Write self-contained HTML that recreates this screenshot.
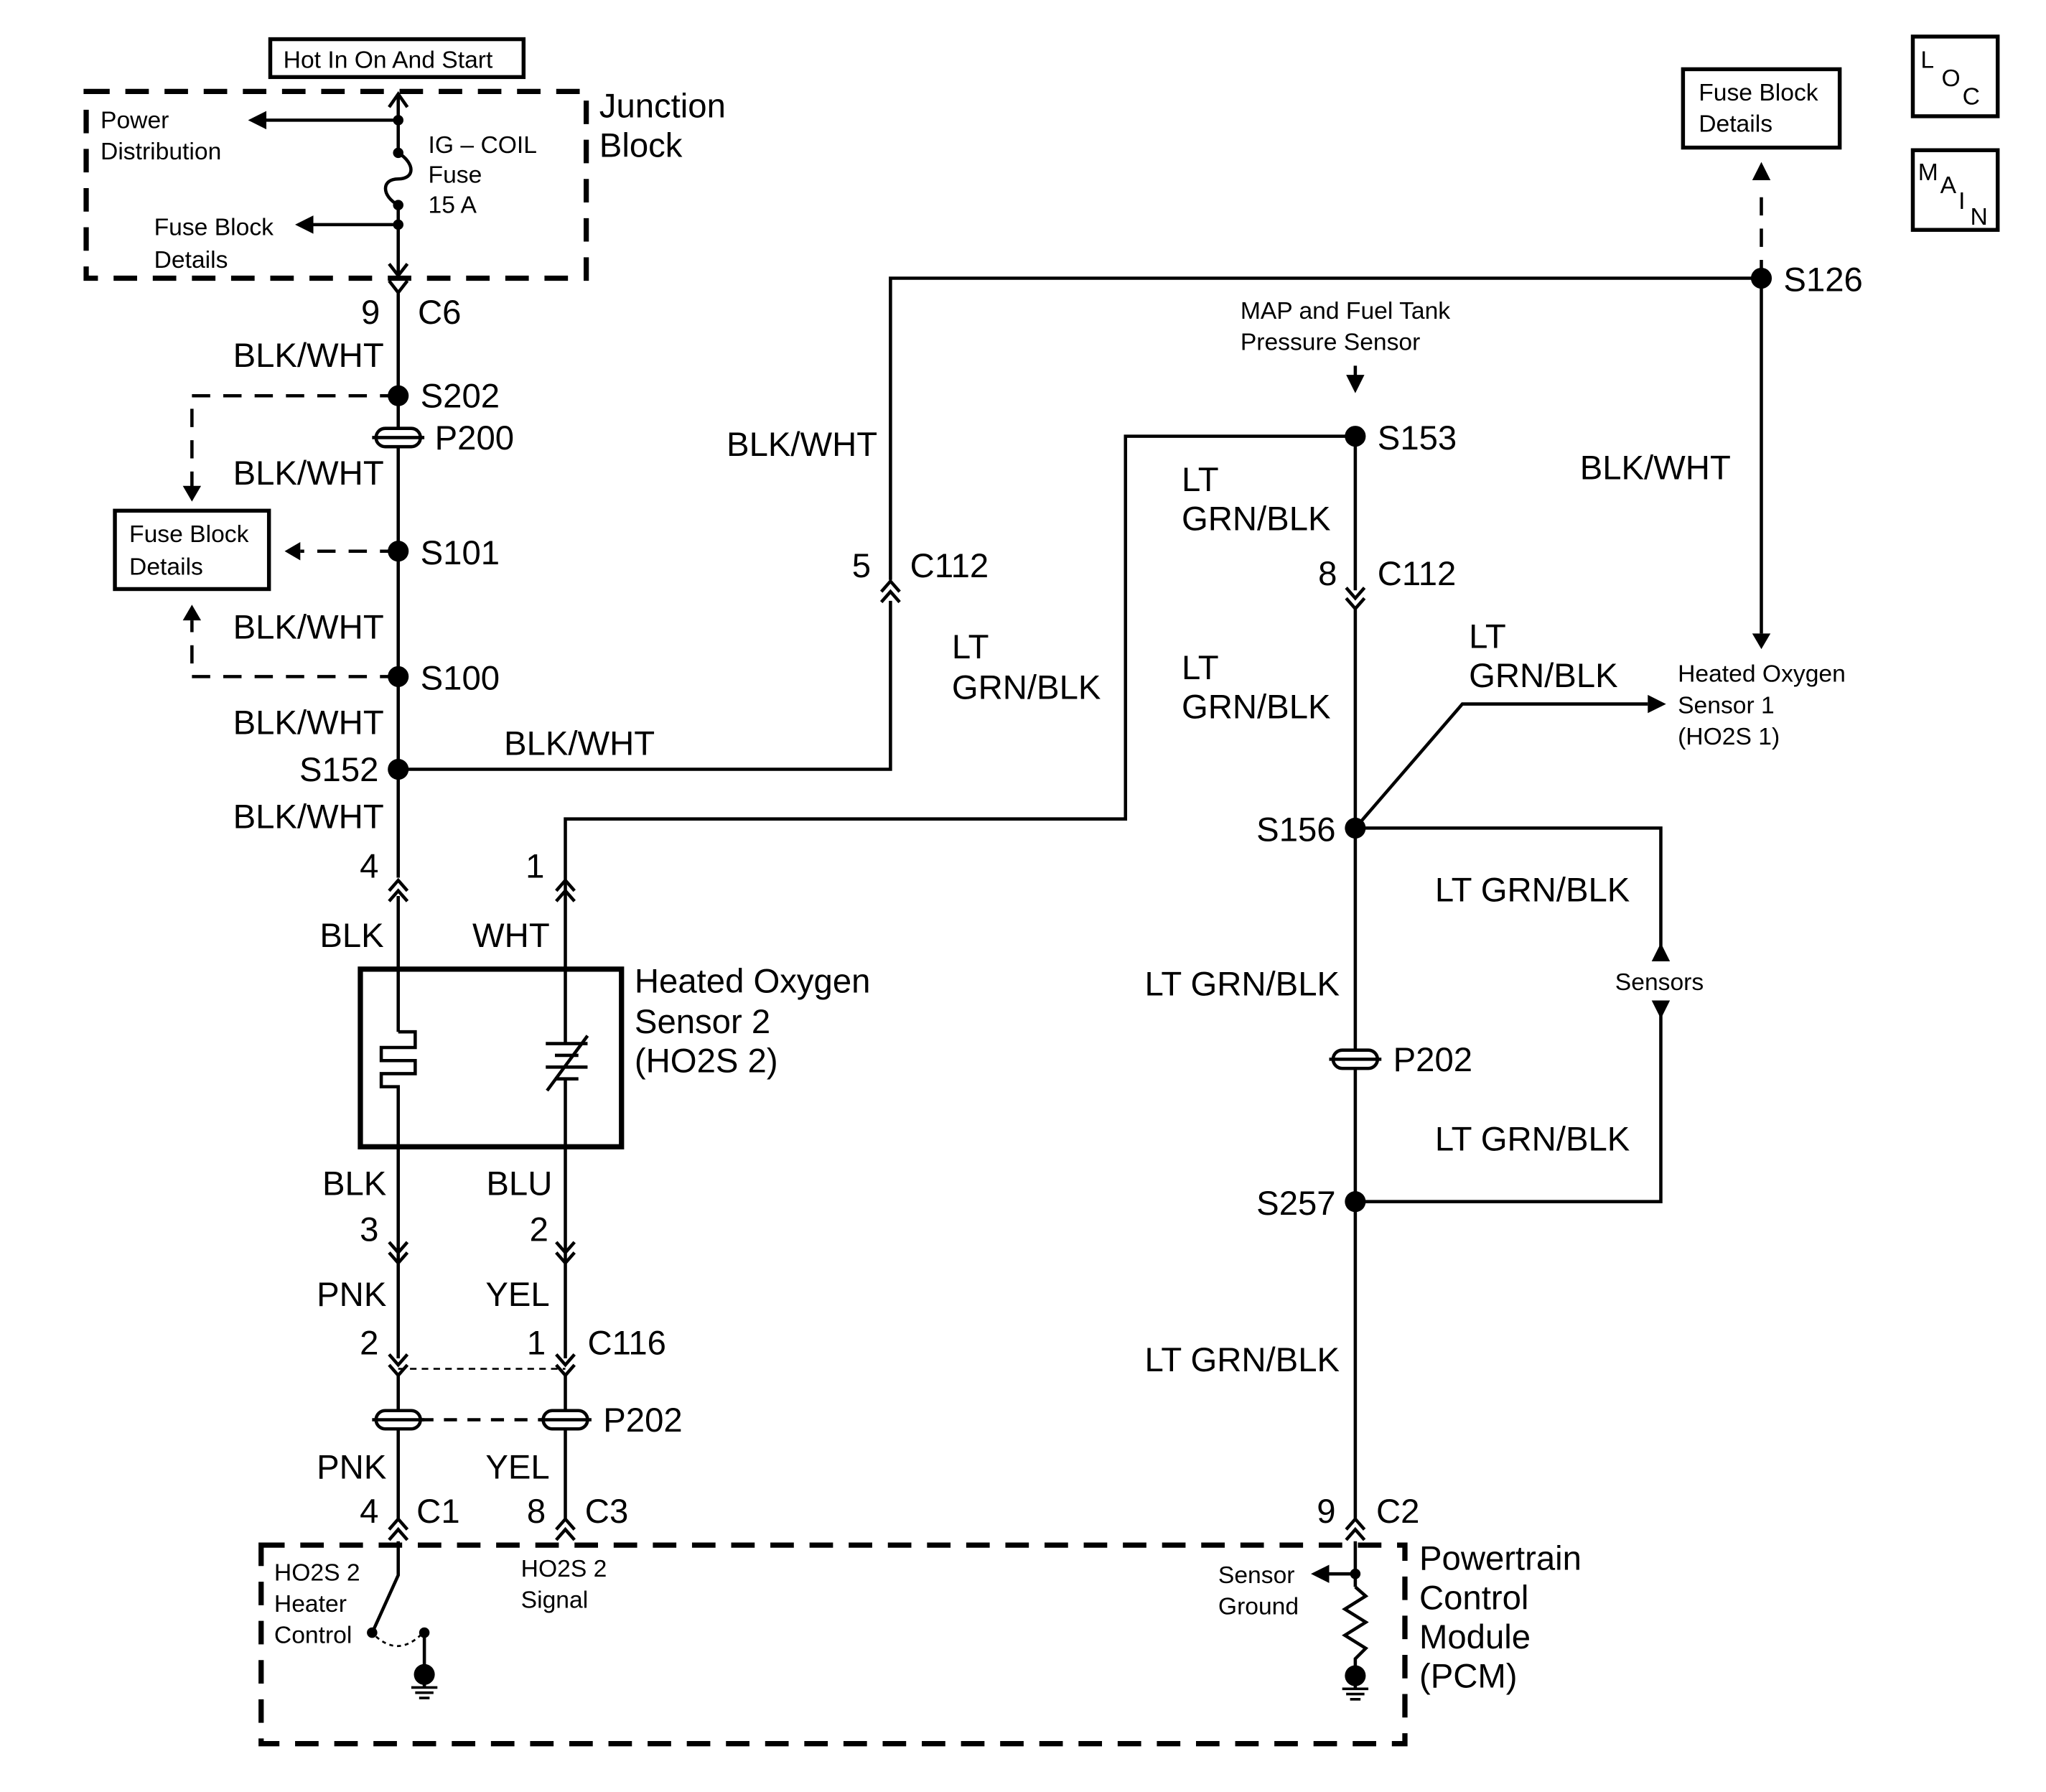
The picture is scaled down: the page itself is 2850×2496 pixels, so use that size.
<!DOCTYPE html>
<html><head><meta charset="utf-8"><style>
html,body{margin:0;padding:0;background:#fff;}
svg{display:block;}
text{font-family:"Liberation Sans",Arial,sans-serif;fill:#000;}
.b{font-size:26px;}
.s{font-size:18.5px;}
.e{text-anchor:end;}
</style></head><body>
<svg width="2850" height="2496" viewBox="0 0 1567 1372" preserveAspectRatio="none" xmlns="http://www.w3.org/2000/svg">
<defs>
<path id="cd" d="M-7,-7 L0,1 L7,-7 M-7,1 L0,9 L7,1" fill="none" stroke="#000" stroke-width="2.5"/>
<path id="cu" d="M-7,7 L0,-1 L7,7 M-7,-1 L0,-9 L7,-1" fill="none" stroke="#000" stroke-width="2.5"/>
<g id="pp"><rect x="-17" y="-7" width="34" height="14" rx="7" fill="#fff" stroke="#000" stroke-width="2.5"/><line x1="-20" y1="0" x2="20" y2="0" stroke="#000" stroke-width="2.5"/></g>
<g id="gnd"><line x1="-10" y1="0" x2="10" y2="0" stroke="#000" stroke-width="2"/><line x1="-7" y1="4" x2="7" y2="4" stroke="#000" stroke-width="2"/><line x1="-4" y1="8" x2="4" y2="8" stroke="#000" stroke-width="2"/></g>
</defs>
<g fill="none" stroke="#000" stroke-width="2.5">
<rect x="207" y="30" width="194" height="29" stroke-width="3"/>
<rect x="66" y="70" width="383" height="143" stroke-width="4" stroke-dasharray="18,12"/>
<line x1="305" y1="72" x2="305" y2="117"/>
<path d="M305,117 C318,125 318,137 305,137 C292,137 292,150 305,157"/>
<line x1="305" y1="157" x2="305" y2="211"/>
<path d="M298,82 L305,72 L312,82"/>
<path d="M298,202 L305,211 L312,202"/>
<line x1="305" y1="92" x2="200" y2="92"/>
<line x1="305" y1="172" x2="236" y2="172"/>
<path d="M298,215 L305,224 L312,215"/>
<line x1="305" y1="224" x2="305" y2="672"/>
<path d="M305,303 H147 V375" stroke-dasharray="14,10"/>
<rect x="88" y="391" width="118" height="60" stroke-width="3"/>
<line x1="305" y1="422" x2="230" y2="422" stroke-dasharray="14,10"/>
<path d="M305,518 H147 V475" stroke-dasharray="14,10"/>
<path d="M305,589 H682 V460"/>
<path d="M682,444 V213 H1349"/>
<path d="M433,686 V627 H862 V334 H1038"/>
<line x1="305" y1="686" x2="305" y2="790"/>
<line x1="433" y1="686" x2="433" y2="800"/>
<rect x="276" y="742" width="200" height="136" stroke-width="4"/>
<path d="M305,790 H318 V802 H292 V812 H318 V822 H292 V832 H305 V1040"/>
<line x1="418" y1="799" x2="450" y2="799"/>
<line x1="425" y1="808" x2="443" y2="808"/>
<line x1="418" y1="817" x2="450" y2="817"/>
<line x1="425" y1="826" x2="443" y2="826"/>
<line x1="433" y1="826" x2="433" y2="1040"/>
<line x1="419" y1="835" x2="450" y2="793"/>
<line x1="305" y1="1052" x2="305" y2="1163"/>
<line x1="433" y1="1052" x2="433" y2="1163"/>
<line x1="305" y1="1048" x2="433" y2="1048" stroke-width="1.5" stroke-dasharray="5,4"/>
<line x1="322" y1="1087" x2="416" y2="1087" stroke-dasharray="10,8"/>
<rect x="200" y="1183" width="876" height="152" stroke-width="4" stroke-dasharray="18,12"/>
<path d="M305,1180 V1206 L286,1248"/>
<path d="M288,1253 Q305,1268 322,1252" stroke-width="1.5" stroke-dasharray="3,3"/>
<line x1="325" y1="1250" x2="325" y2="1292"/>
<line x1="1038" y1="280" x2="1038" y2="292" stroke-dasharray="8,6"/>
<line x1="1038" y1="334" x2="1038" y2="452"/>
<line x1="1038" y1="465" x2="1038" y2="1163"/>
<path d="M1038,634 L1120,539 H1262"/>
<path d="M1038,634 H1272 V735"/>
<path d="M1272,768 V920 H1038"/>
<line x1="1038" y1="1180" x2="1038" y2="1215"/>
<path d="M1038,1215 L1046,1222 L1030,1232 L1046,1242 L1030,1252 L1046,1262 L1038,1270 V1292"/>
<line x1="1038" y1="1205" x2="1016" y2="1205"/>
<line x1="1349" y1="213" x2="1349" y2="485"/>
<line x1="1349" y1="213" x2="1349" y2="145" stroke-dasharray="14,10"/>
<rect x="1289" y="53" width="120" height="60" stroke-width="3"/>
<rect x="1465" y="28" width="65" height="61" stroke-width="3"/>
<rect x="1465" y="115" width="65" height="61" stroke-width="3"/>
</g>
<g fill="#000">
<path d="M190,92 L204,85 L204,99Z"/>
<path d="M226,172 L240,165 L240,179Z"/>
<path d="M147,384 L140,372 L154,372Z"/>
<path d="M218,422 L230,415 L230,429Z"/>
<path d="M147,463 L140,475 L154,475Z"/>
<path d="M1038,301 L1031,287 L1045,287Z"/>
<path d="M1276,539 L1262,532 L1262,546Z"/>
<path d="M1272,722 L1265,736 L1279,736Z"/>
<path d="M1272,780 L1265,766 L1279,766Z"/>
<path d="M1349,497 L1342,485 L1356,485Z"/>
<path d="M1349,124 L1342,138 L1356,138Z"/>
<path d="M1004,1205 L1018,1198 L1018,1212Z"/>
<circle cx="305" cy="92" r="4"/><circle cx="305" cy="117" r="4"/><circle cx="305" cy="157" r="4"/><circle cx="305" cy="172" r="4"/>
<circle cx="305" cy="303" r="8"/><circle cx="305" cy="422" r="8"/><circle cx="305" cy="518" r="8"/><circle cx="305" cy="589" r="8"/>
<circle cx="1038" cy="334" r="8"/><circle cx="1038" cy="634" r="8"/><circle cx="1038" cy="920" r="8"/><circle cx="1349" cy="213" r="8"/>
<circle cx="285" cy="1250" r="4"/><circle cx="325" cy="1250" r="4"/><circle cx="1038" cy="1205" r="4"/>
<circle cx="325" cy="1282" r="8"/><circle cx="1038" cy="1283" r="8"/>
</g>
<use href="#gnd" x="325" y="1292"/><use href="#gnd" x="1038" y="1293"/>
<use href="#cu" x="305" y="683"/><use href="#cu" x="433" y="683"/><use href="#cu" x="682" y="454"/>
<use href="#cd" x="305" y="958"/><use href="#cd" x="433" y="958"/><use href="#cd" x="305" y="1044"/><use href="#cd" x="433" y="1044"/>
<use href="#cd" x="1038" y="457"/>
<use href="#cu" x="305" y="1172"/><use href="#cu" x="433" y="1172"/><use href="#cu" x="1038" y="1172"/>
<use href="#pp" x="305" y="335"/><use href="#pp" x="305" y="1087"/><use href="#pp" x="433" y="1087"/><use href="#pp" x="1038" y="811"/>
<text class="s" x="217" y="52">Hot In On And Start</text>
<text class="s" x="77" y="98">Power</text><text class="s" x="77" y="122">Distribution</text>
<text class="s" x="328" y="117">IG – COIL</text><text class="s" x="328" y="140">Fuse</text><text class="s" x="328" y="163">15 A</text>
<text class="s" x="118" y="180">Fuse Block</text><text class="s" x="118" y="205">Details</text>
<text class="b" x="459" y="90">Junction</text><text class="b" x="459" y="120">Block</text>
<text class="b e" x="291" y="248">9</text><text class="b" x="320" y="248">C6</text>
<text class="b e" x="294" y="281">BLK/WHT</text>
<text class="b" x="322" y="312">S202</text><text class="b" x="333" y="344">P200</text>
<text class="b e" x="294" y="371">BLK/WHT</text>
<text class="s" x="99" y="415">Fuse Block</text><text class="s" x="99" y="440">Details</text>
<text class="b" x="322" y="432">S101</text>
<text class="b e" x="294" y="489">BLK/WHT</text>
<text class="b" x="322" y="528">S100</text>
<text class="b e" x="294" y="562">BLK/WHT</text>
<text class="b e" x="290" y="598">S152</text>
<text class="b" x="386" y="578">BLK/WHT</text>
<text class="b e" x="294" y="634">BLK/WHT</text>
<text class="b e" x="290" y="672">4</text><text class="b e" x="417" y="672">1</text>
<text class="b e" x="294" y="725">BLK</text><text class="b e" x="421" y="725">WHT</text>
<text class="b" x="486" y="760">Heated Oxygen</text><text class="b" x="486" y="791">Sensor 2</text><text class="b" x="486" y="821">(HO2S 2)</text>
<text class="b e" x="296" y="915">BLK</text><text class="b e" x="423" y="915">BLU</text>
<text class="b e" x="290" y="950">3</text><text class="b e" x="420" y="950">2</text>
<text class="b e" x="296" y="1000">PNK</text><text class="b e" x="421" y="1000">YEL</text>
<text class="b e" x="290" y="1037">2</text><text class="b e" x="418" y="1037">1</text><text class="b" x="450" y="1037">C116</text>
<text class="b" x="462" y="1096">P202</text>
<text class="b e" x="296" y="1132">PNK</text><text class="b e" x="421" y="1132">YEL</text>
<text class="b e" x="290" y="1166">4</text><text class="b" x="319" y="1166">C1</text>
<text class="b e" x="418" y="1166">8</text><text class="b" x="448" y="1166">C3</text>
<text class="s" x="210" y="1210">HO2S 2</text><text class="s" x="210" y="1234">Heater</text><text class="s" x="210" y="1258">Control</text>
<text class="s" x="399" y="1207">HO2S 2</text><text class="s" x="399" y="1231">Signal</text>
<text class="s" x="933" y="1212">Sensor</text><text class="s" x="933" y="1236">Ground</text>
<text class="b" x="1087" y="1202">Powertrain</text><text class="b" x="1087" y="1232">Control</text><text class="b" x="1087" y="1262">Module</text><text class="b" x="1087" y="1292">(PCM)</text>
<text class="b e" x="672" y="349">BLK/WHT</text>
<text class="b e" x="667" y="442">5</text><text class="b" x="697" y="442">C112</text>
<text class="b" x="729" y="504">LT</text><text class="b" x="729" y="535">GRN/BLK</text>
<text class="s" x="950" y="244">MAP and Fuel Tank</text><text class="s" x="950" y="268">Pressure Sensor</text>
<text class="b" x="1055" y="344">S153</text>
<text class="b" x="905" y="376">LT</text><text class="b" x="905" y="406">GRN/BLK</text>
<text class="b e" x="1024" y="448">8</text><text class="b" x="1055" y="448">C112</text>
<text class="b" x="905" y="520">LT</text><text class="b" x="905" y="550">GRN/BLK</text>
<text class="b" x="1125" y="496">LT</text><text class="b" x="1125" y="526">GRN/BLK</text>
<text class="s" x="1285" y="522">Heated Oxygen</text><text class="s" x="1285" y="546">Sensor 1</text><text class="s" x="1285" y="570">(HO2S 1)</text>
<text class="b e" x="1023" y="644">S156</text>
<text class="b" x="1099" y="690">LT GRN/BLK</text>
<text class="s" x="1237" y="758">Sensors</text>
<text class="b e" x="1026" y="762">LT GRN/BLK</text>
<text class="b" x="1067" y="820">P202</text>
<text class="b" x="1099" y="881">LT GRN/BLK</text>
<text class="b e" x="1023" y="930">S257</text>
<text class="b e" x="1026" y="1050">LT GRN/BLK</text>
<text class="b e" x="1023" y="1166">9</text><text class="b" x="1054" y="1166">C2</text>
<text class="b" x="1366" y="223">S126</text>
<text class="b" x="1210" y="367">BLK/WHT</text>
<text class="s" x="1301" y="77">Fuse Block</text><text class="s" x="1301" y="101">Details</text>
<text class="s" x="1471" y="52">L</text><text class="s" x="1487" y="66">O</text><text class="s" x="1503" y="80">C</text>
<text class="s" x="1469" y="138">M</text><text class="s" x="1486" y="148">A</text><text class="s" x="1500" y="160">I</text><text class="s" x="1509" y="172">N</text>
</svg>
</body></html>
